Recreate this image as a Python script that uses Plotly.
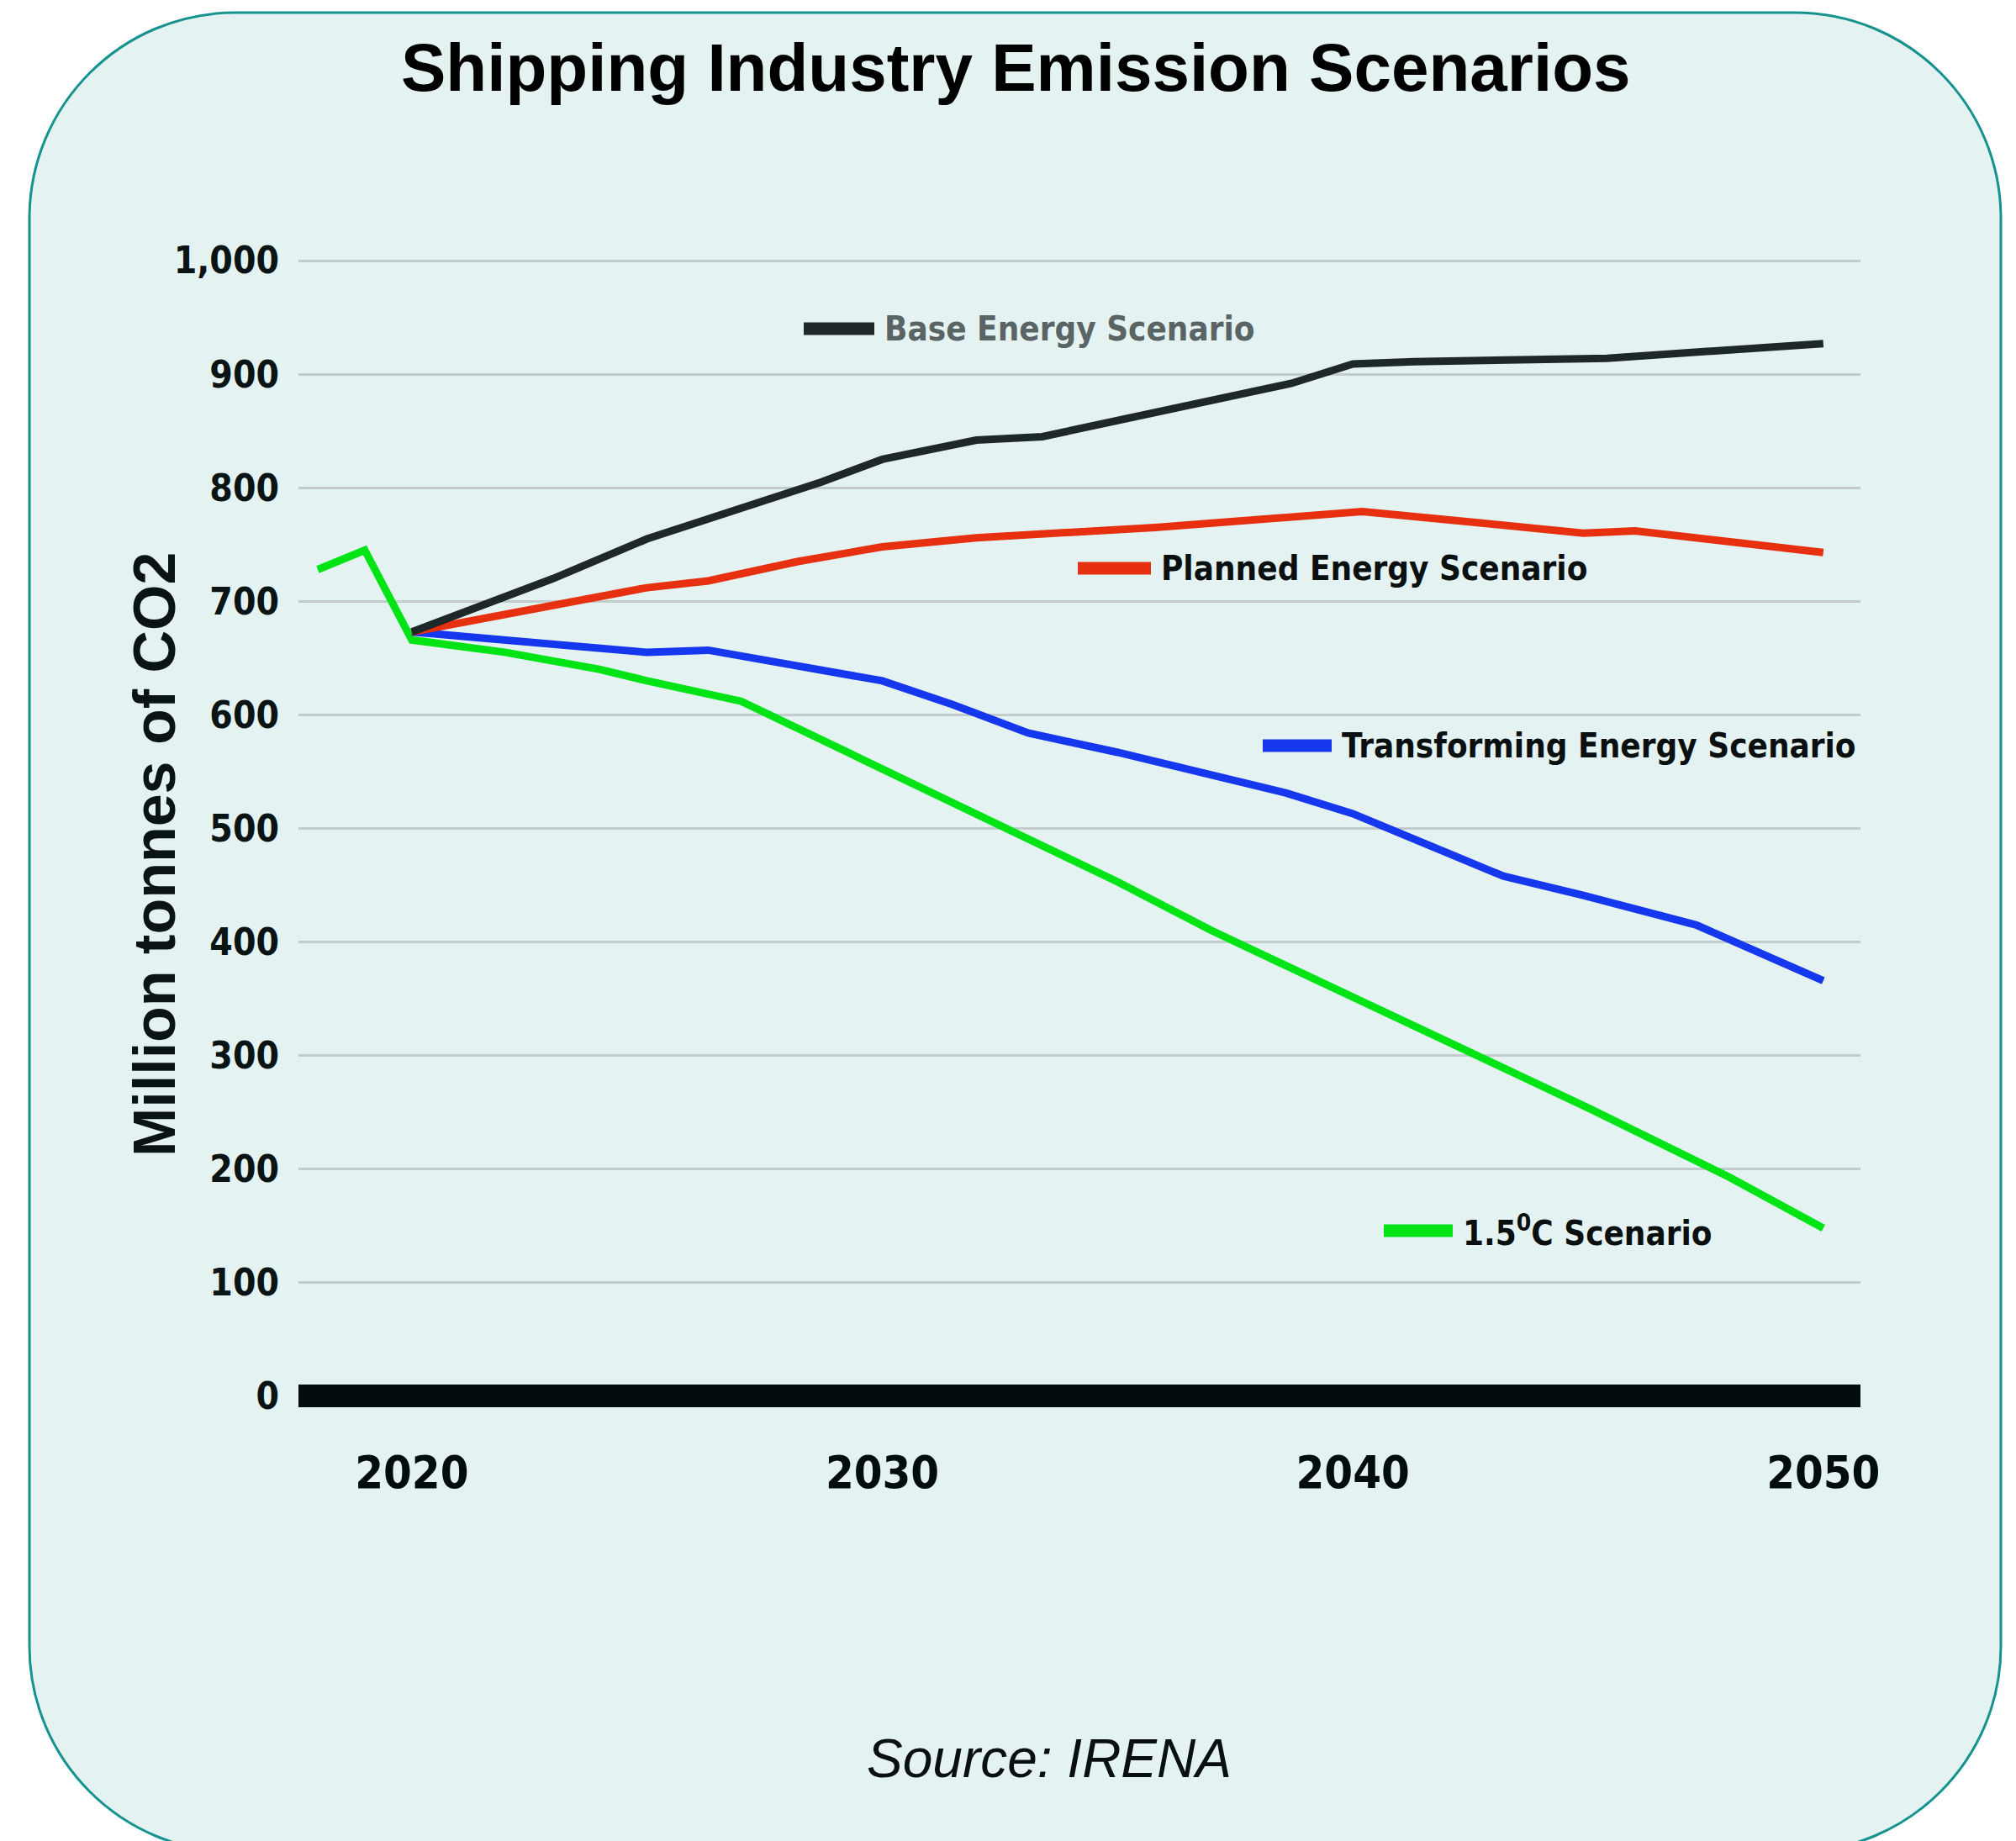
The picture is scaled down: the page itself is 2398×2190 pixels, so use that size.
import plotly.graph_objects as go

# ---------------- data ----------------
years_green = [2018, 2019, 2020, 2022, 2024, 2025, 2027, 2030, 2033, 2035, 2037, 2040, 2043, 2045, 2048, 2050]
vals_green = [728, 745, 666, 655, 640, 630, 612, 553, 493, 453, 410, 352, 293, 254, 193, 148]

years_base = [2020, 2023, 2025, 2027, 2028.7, 2030, 2032, 2033.4, 2035.3, 2037.5, 2038.7, 2040, 2041.3, 2045.4, 2046.8, 2050]
vals_base = [673, 720, 755, 782, 805, 825, 842, 845, 862, 881, 892, 909, 911, 914, 918, 927]

years_planned = [2020, 2025, 2026.3, 2028.2, 2030, 2032, 2035.8, 2038.6, 2040.2, 2042.7, 2044.9, 2046, 2047.6, 2050]
vals_planned = [673, 712, 718, 735, 748, 756, 765, 773, 779, 769, 760, 762, 754, 743]

years_transf = [2020, 2022.7, 2025, 2026.3, 2028.2, 2030, 2031.5, 2033.1, 2035, 2037.2, 2038.6, 2040, 2041.6, 2043.2, 2044.9, 2047.3, 2050]
vals_transf = [673, 664, 655, 657, 643, 630, 609, 584, 567, 545, 531, 513, 485, 458, 441, 415, 366]

x_ticks = [2020, 2030, 2040, 2050]
y_ticks = [0, 100, 200, 300, 400, 500, 600, 700, 800, 900, 1000]

names = ["Base Energy Scenario", "Planned Energy Scenario",
         "Transforming Energy Scenario", "1.5<sup>0</sup>C Scenario"]
colors = ["#1f2828", "#e6300f", "#1537ee", "#00e415"]

# ---------------- layout geometry (pixels) ----------------
W, H = 2398, 2190
L, R, T, B = 355, 2213, 283, 1715


def px(xp):
    return (xp - L) / (R - L)


def py(yp):
    return (B - yp) / (B - T)


NARROW = "Liberation Sans Narrow, DejaVu Sans Condensed, Arial Narrow, sans-serif"
SANS = "Liberation Sans, Arial, Helvetica, sans-serif"

fig = go.Figure()
series = [(years_green, vals_green), (years_transf, vals_transf),
          (years_planned, vals_planned), (years_base, vals_base)]
order_colors = [colors[3], colors[2], colors[1], colors[0]]
order_names = [names[3], names[2], names[1], names[0]]
for (xs, ys), c, n in zip(series, order_colors, order_names):
    fig.add_trace(go.Scatter(x=xs, y=ys, mode="lines", name=n,
                             line=dict(color=c, width=9), showlegend=False))

# rounded background panel (cubic bezier corners)
x0, x1, y0, y1, r = 35, 2380, 15, 2203, 245
k = 0.5523 * r


def P(a, b):
    return f"{px(a):.5f},{py(b):.5f}"


path = (f"M {P(x0 + r, y0)} L {P(x1 - r, y0)} "
        f"C {P(x1 - r + k, y0)} {P(x1, y0 + r - k)} {P(x1, y0 + r)} "
        f"L {P(x1, y1 - r)} "
        f"C {P(x1, y1 - r + k)} {P(x1 - r + k, y1)} {P(x1 - r, y1)} "
        f"L {P(x0 + r, y1)} "
        f"C {P(x0 + r - k, y1)} {P(x0, y1 - r + k)} {P(x0, y1 - r)} "
        f"L {P(x0, y0 + r)} "
        f"C {P(x0, y0 + r - k)} {P(x0 + r - k, y0)} {P(x0 + r, y0)} Z")
shapes = [dict(type="path", path=path, xref="paper", yref="paper",
               fillcolor="#e4f2f2", line=dict(color="#16938f", width=3), layer="below")]

# legend keys placed beside the lines
leg = [(956, 1040, 391), (1282, 1369, 676), (1502, 1584, 887), (1646, 1728, 1464)]
text_colors = ["#5a6464", "#0a1010", "#0a1010", "#0a1010"]
annotations = []
for (a, b, yy), c, n, tc in zip(leg, colors, names, text_colors):
    shapes.append(dict(type="line", xref="paper", yref="paper",
                       x0=px(a), x1=px(b), y0=py(yy), y1=py(yy),
                       line=dict(color=c, width=15)))
    annotations.append(dict(text=n, xref="paper", yref="paper", x=px(b + 10), y=py(yy),
                            xanchor="left", yanchor="middle", showarrow=False,
                            font=dict(family=NARROW, size=40, color=tc, weight="bold")))

annotations.append(dict(text="Million tonnes of CO2", xref="paper", yref="paper",
                        x=px(184), y=py(1017), textangle=-90, showarrow=False,
                        xanchor="center", yanchor="middle",
                        font=dict(family=SANS, size=70, color="#0a1414", weight="bold")))
annotations.append(dict(text="Source: IRENA", xref="paper", yref="paper",
                        x=px(1248), y=py(2092), showarrow=False,
                        xanchor="center", yanchor="middle",
                        font=dict(family=SANS, size=64, color="#0a1010", style="italic")))
annotations.append(dict(text="Shipping Industry Emission Scenarios", xref="paper", yref="paper",
                        x=px(1208), y=py(80), showarrow=False,
                        xanchor="center", yanchor="middle",
                        font=dict(family=SANS, size=80, color="#000000", weight="bold")))

fig.update_layout(
    width=W, height=H, autosize=False,
    margin=dict(l=L, r=W - R, t=T, b=H - B, pad=0),
    paper_bgcolor="#ffffff", plot_bgcolor="rgba(0,0,0,0)",
    shapes=shapes, annotations=annotations,
    xaxis=dict(range=[2017.59, 2050.79], tickvals=x_ticks, ticktext=[str(v) for v in x_ticks],
               showgrid=False, zeroline=False, showline=False, ticks="",
               ticklabelstandoff=0,
               tickfont=dict(family=NARROW, size=54, color="#030d0d", weight="bold")),
    yaxis=dict(range=[-40, 1020], tickvals=y_ticks, tickformat=",d",
               showgrid=True, gridcolor="#c2cccc", gridwidth=3,
               zeroline=True, zerolinecolor="#030d0d", zerolinewidth=27,
               showline=False, ticks="", ticklabelstandoff=22,
               tickfont=dict(family=NARROW, size=44, color="#0a1414", weight="bold")),
)

fig.write_html("out.html")
